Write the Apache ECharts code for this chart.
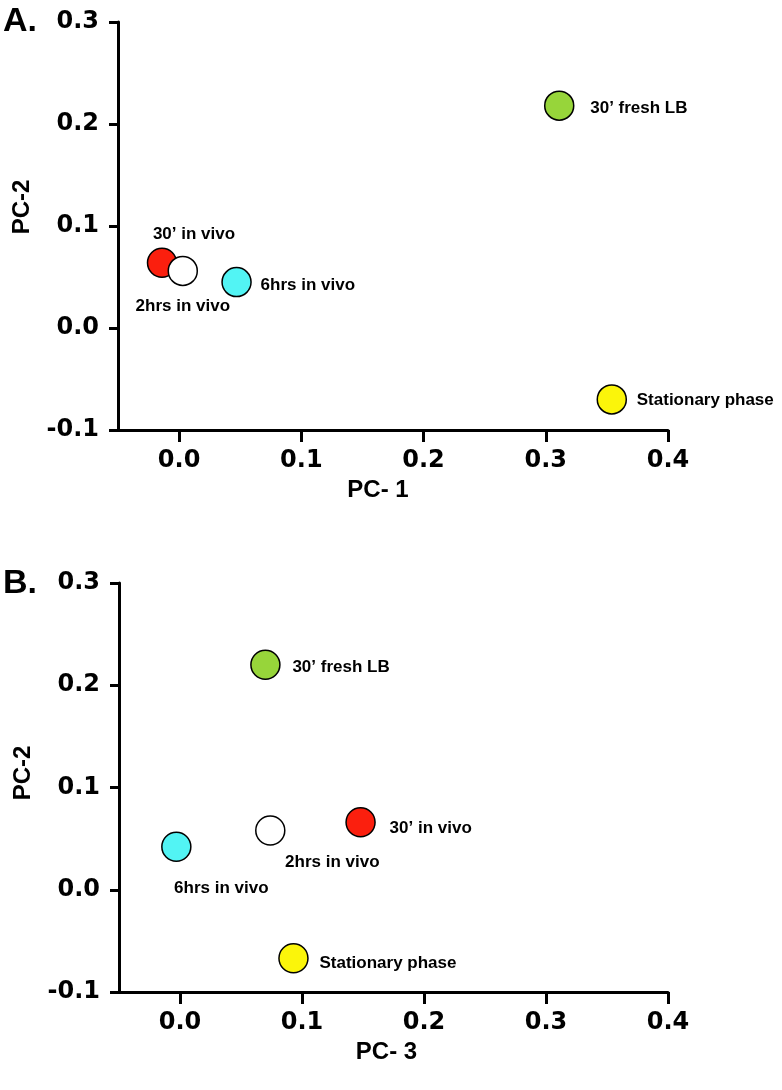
<!DOCTYPE html>
<html>
<head>
<meta charset="utf-8">
<script src="https://cdn.jsdelivr.net/npm/echarts@6/dist/echarts.min.js"></script>
<style>
html,body{margin:0;padding:0;background:#fff;}
#chart{width:782px;height:1090px;}
</style>
</head>
<body>
<div id="chart"></div>
<script>
// ---- data ----
const sampleNames = ["30\u2019 in vivo", "2hrs in vivo", "6hrs in vivo", "30\u2019 fresh LB", "Stationary phase"];
const pointColors = ["#fb1f0e", "#ffffff", "#52f4f4", "#97d53a", "#fbf50a"];
// Panel A: PC-1 vs PC-2
const pc1 = [-0.014, 0.003, 0.047, 0.311, 0.354];
const pc2PanelA = [0.064, 0.056, 0.045, 0.218, -0.070];
// Panel B: PC-3 vs PC-2
const pc3 = [0.148, 0.074, -0.003, 0.070, 0.093];
const pc2PanelB = [0.066, 0.058, 0.042, 0.220, -0.067];
const xTickValues = [0, 0.1, 0.2, 0.3, 0.4];
const panelLabels = ["A.", "B."];
const xAxisTitles = ["PC- 1", "PC- 3"];
const yAxisTitle = "PC-2";

// ---- label placement (style) ----
const labelLayoutA = [
  {align: "center", offset: [32, -28]},
  {align: "center", offset: [0, 35]},
  {align: "left", offset: [24, 3]},
  {align: "left", offset: [31, 3]},
  {align: "left", offset: [25, 1]}
];
const labelLayoutB = [
  {align: "left", offset: [29, 6]},
  {align: "center", offset: [62, 32]},
  {align: "center", offset: [45, 42]},
  {align: "left", offset: [27, 3]},
  {align: "left", offset: [26, 5]}
];

const tickFont = "DejaVu Sans";
const textFont = "Liberation Sans";

function buildData(xs, ys, layout) {
  return sampleNames.map((n, i) => ({
    name: n,
    value: [xs[i], ys[i]],
    itemStyle: {color: pointColors[i]},
    label: {
      show: true,
      position: "inside",
      formatter: n,
      align: layout[i].align,
      verticalAlign: "middle",
      offset: layout[i].offset,
      color: "#000",
      fontFamily: textFont,
      fontWeight: "bold",
      fontSize: 17
    }
  }));
}

function xAxisCfg(gridIndex, title, shift) {
  return {
    gridIndex: gridIndex,
    type: "value",
    min: -0.05,
    max: 0.4,
    splitLine: {show: false},
    axisLine: {onZero: false, lineStyle: {color: "#000", width: 3}},
    axisTick: {customValues: xTickValues, length: 12, lineStyle: {color: "#000", width: 3}},
    axisLabel: {customValues: xTickValues, margin: 19, color: "#000", fontFamily: tickFont, fontWeight: "bold", fontSize: 24,
      formatter: v => v.toFixed(1)},
    name: title,
    nameLocation: "middle",
    nameGap: 48,
    nameTextStyle: {color: "#000", fontFamily: textFont, fontWeight: "bold", fontSize: 24, padding: [0, shift, 0, 0]}
  };
}
function yAxisCfg(gridIndex, shift) {
  return {
    gridIndex: gridIndex,
    type: "value",
    min: -0.1,
    max: 0.3,
    interval: 0.1,
    splitLine: {show: false},
    axisLine: {onZero: false, lineStyle: {color: "#000", width: 3}},
    axisTick: {length: 9, lineStyle: {color: "#000", width: 3}},
    axisLabel: {margin: 19, color: "#000", fontFamily: tickFont, fontWeight: "bold", fontSize: 24,
      formatter: v => v.toFixed(1)},
    name: yAxisTitle,
    nameLocation: "middle",
    nameRotate: 90,
    nameGap: 84,
    nameTextStyle: {color: "#000", fontFamily: textFont, fontWeight: "bold", fontSize: 24, padding: [0, 0, 0, shift]}
  };
}

const chart = echarts.init(document.getElementById("chart"), null, {renderer: "canvas"});
chart.setOption({
  backgroundColor: "#fff",
  animation: false,
  title: [
    {text: panelLabels[0], left: 3, top: 5, padding: 0, textStyle: {fontFamily: textFont, fontWeight: "bold", fontSize: 34, color: "#000"}},
    {text: panelLabels[1], left: 3, top: 567, padding: 0, textStyle: {fontFamily: textFont, fontWeight: "bold", fontSize: 34, color: "#000"}}
  ],
  grid: [
    {left: 118, top: 22, width: 550, height: 408},
    {left: 119, top: 583, width: 549, height: 409}
  ],
  xAxis: [xAxisCfg(0, xAxisTitles[0], 30), xAxisCfg(1, xAxisTitles[1], 14)],
  yAxis: [yAxisCfg(0, 38), yAxisCfg(1, 29)],
  series: [
    {type: "scatter", xAxisIndex: 0, yAxisIndex: 0, symbolSize: 29,
      itemStyle: {borderColor: "#000", borderWidth: 1.5, opacity: 1},
      data: buildData(pc1, pc2PanelA, labelLayoutA)},
    {type: "scatter", xAxisIndex: 1, yAxisIndex: 1, symbolSize: 29,
      itemStyle: {borderColor: "#000", borderWidth: 1.5, opacity: 1},
      data: buildData(pc3, pc2PanelB, labelLayoutB)}
  ]
});
</script>
</body>
</html>
